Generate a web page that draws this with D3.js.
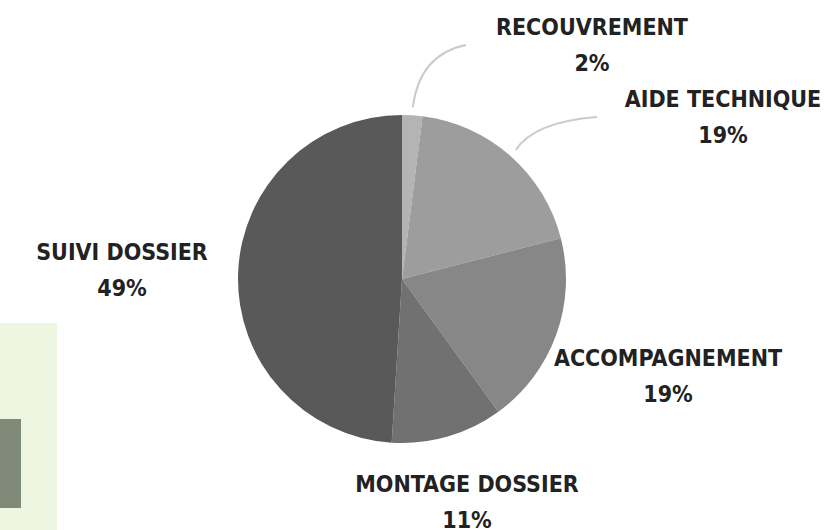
<!DOCTYPE html>
<html>
<head>
<meta charset="utf-8">
<script src="https://cdn.jsdelivr.net/npm/d3@7"></script>
<style>
  body { margin: 0; background: #fff; }
  svg { display: block; }
</style>
</head>
<body>
<svg id="vis"></svg>
<script>
// data
const categories = ["RECOUVREMENT", "AIDE TECHNIQUE", "ACCOMPAGNEMENT", "MONTAGE DOSSIER", "SUIVI DOSSIER"];
const shares = [2, 19, 19, 11, 49];
const sliceColors = ["#b4b4b4", "#9d9d9d", "#878787", "#717171", "#595959"];

// hand placed labels (center x, baseline y of the first line)
const labelPos = {
  "RECOUVREMENT": [592, 35],
  "AIDE TECHNIQUE": [723, 107],
  "ACCOMPAGNEMENT": [668, 366],
  "MONTAGE DOSSIER": [467, 492],
  "SUIVI DOSSIER": [122, 260]
};
// only the two small top slices get a leader line
const withLeader = ["RECOUVREMENT", "AIDE TECHNIQUE"];

drawChart = () => {
  const width = 825, height = 530;
  const cx = 402, cy = 279, radius = 164;

  const svg = d3.select("#vis")
    .attr("width", width)
    .attr("height", height)
    .attr("viewBox", [0, 0, width, height]);

  // the greenish box bleeding in from the left
  svg.append("rect")
    .attr("x", 0).attr("y", 323)
    .attr("width", 57).attr("height", 207)
    .style("fill", "#eef5e1");
  svg.append("rect")
    .attr("x", 0).attr("y", 419)
    .attr("width", 21).attr("height", 89)
    .style("fill", "#7f8a78");

  const data = categories.map((c, i) => ({name: c, value: shares[i]}));
  const color = d3.scaleOrdinal().domain(categories).range(sliceColors);

  const pie = d3.pie().sort(null).value(d => d.value);
  const arc = d3.arc().innerRadius(0).outerRadius(radius);
  const arcs = pie(data);

  const g = svg.append("g").attr("transform", `translate(${cx},${cy})`);

  g.selectAll("path.slice")
    .data(arcs)
    .join("path")
      .attr("class", "slice")
      .attr("d", arc)
      .style("fill", d => color(d.data.name));

  // curved leader lines
  const lead = arcs.filter(d => withLeader.includes(d.data.name));
  svg.selectAll("path.leader")
    .data(lead)
    .join("path")
      .attr("class", "leader")
      .attr("d", d => {
        const a = (d.startAngle + d.endAngle) / 2;
        const r0 = radius + 8;
        const x0 = cx + r0 * Math.sin(a), y0 = cy - r0 * Math.cos(a);
        const [lx, ly] = labelPos[d.data.name];
        const x1 = lx - 126, y1 = ly + 10;
        // bend: leave the pie going outward, arrive horizontally
        const qx = x0 + (y0 - y1) * Math.tan(a) * 0.35 + (x1 - x0) * 0.1;
        const qy = y1 + (y0 - y1) * 0.15;
        return `M${x0},${y0}Q${qx},${qy} ${x1},${y1}`;
      })
      .style("fill", "none")
      .style("stroke", "#cbcbcb")
      .style("stroke-width", 2);

  const labels = svg.selectAll("g.label")
    .data(arcs)
    .join("g")
      .attr("class", "label")
      .attr("transform", d => `translate(${labelPos[d.data.name][0]},${labelPos[d.data.name][1]})`);

  labels.append("text")
    .attr("text-anchor", "middle")
    .attr("y", 0)
    .text(d => d.data.name);
  labels.append("text")
    .attr("text-anchor", "middle")
    .attr("y", 36)
    .text(d => d.data.value + "%");

  labels.selectAll("text")
    .style("font-family", "'DejaVu Sans Condensed', 'DejaVu Sans', sans-serif")
    .style("font-stretch", "condensed")
    .style("font-weight", "bold")
    .style("font-size", "23px")
    .style("fill", "#222");
}

drawChart()
</script>
</body>
</html>
